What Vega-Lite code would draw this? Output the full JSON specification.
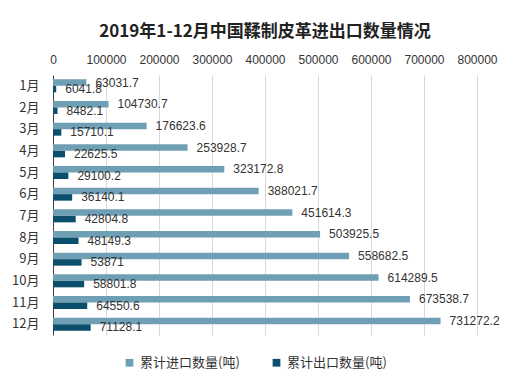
{
  "$schema": "https://vega.github.io/schema/vega-lite/v6.json",
  "width": 424,
  "height": 260,
  "autosize": {"type": "none"},
  "padding": {"left": 53, "top": 75, "right": 40, "bottom": 55},
  "background": "white",
  "config": {
    "font": "'Liberation Sans', 'Noto Sans CJK SC', sans-serif",
    "view": {"stroke": null}
  },
  "title": {
    "text": "2019年1-12月中国鞣制皮革进出口数量情况",
    "fontSize": 17,
    "fontWeight": "bold",
    "color": "#222222",
    "font": "'Noto Sans CJK SC', 'Liberation Sans', sans-serif",
    "anchor": "middle",
    "offset": 12
  },
  "data": {
    "values": [
      {"month": "1月", "type": "累计进口数量(吨)", "value": 63031.7},
      {"month": "1月", "type": "累计出口数量(吨)", "value": 6041.8},
      {"month": "2月", "type": "累计进口数量(吨)", "value": 104730.7},
      {"month": "2月", "type": "累计出口数量(吨)", "value": 8482.1},
      {"month": "3月", "type": "累计进口数量(吨)", "value": 176623.6},
      {"month": "3月", "type": "累计出口数量(吨)", "value": 15710.1},
      {"month": "4月", "type": "累计进口数量(吨)", "value": 253928.7},
      {"month": "4月", "type": "累计出口数量(吨)", "value": 22625.5},
      {"month": "5月", "type": "累计进口数量(吨)", "value": 323172.8},
      {"month": "5月", "type": "累计出口数量(吨)", "value": 29100.2},
      {"month": "6月", "type": "累计进口数量(吨)", "value": 388021.7},
      {"month": "6月", "type": "累计出口数量(吨)", "value": 36140.1},
      {"month": "7月", "type": "累计进口数量(吨)", "value": 451614.3},
      {"month": "7月", "type": "累计出口数量(吨)", "value": 42804.8},
      {"month": "8月", "type": "累计进口数量(吨)", "value": 503925.5},
      {"month": "8月", "type": "累计出口数量(吨)", "value": 48149.3},
      {"month": "9月", "type": "累计进口数量(吨)", "value": 558682.5},
      {"month": "9月", "type": "累计出口数量(吨)", "value": 53871},
      {"month": "10月", "type": "累计进口数量(吨)", "value": 614289.5},
      {"month": "10月", "type": "累计出口数量(吨)", "value": 58801.8},
      {"month": "11月", "type": "累计进口数量(吨)", "value": 673538.7},
      {"month": "11月", "type": "累计出口数量(吨)", "value": 64550.6},
      {"month": "12月", "type": "累计进口数量(吨)", "value": 731272.2},
      {"month": "12月", "type": "累计出口数量(吨)", "value": 71128.1}
    ]
  },
  "encoding": {
    "y": {
      "field": "month",
      "type": "nominal",
      "sort": null,
      "scale": {"paddingInner": 0.4, "paddingOuter": 0.2},
      "axis": {
        "title": null,
        "domain": true,
        "domainColor": "#404040",
        "ticks": false,
        "labelFontSize": 13,
        "labelColor": "#333333",
        "labelPadding": 14,
        "labelFont": "'Noto Sans CJK SC', 'Liberation Sans', sans-serif"
      }
    },
    "x": {
      "field": "value",
      "type": "quantitative",
      "scale": {"domain": [0, 800000], "nice": false},
      "axis": {
        "orient": "top",
        "title": null,
        "domain": false,
        "ticks": false,
        "values": [0, 100000, 200000, 300000, 400000, 500000, 600000, 700000, 800000],
        "format": "d",
        "labelOverlap": false,
        "labelFlush": false,
        "labelBound": false,
        "labelFontSize": 12,
        "labelColor": "#333333",
        "labelPadding": 9,
        "grid": true,
        "gridColor": "#d9d9d9"
      }
    },
    "yOffset": {"field": "type", "sort": ["累计进口数量(吨)", "累计出口数量(吨)"]}
  },
  "layer": [
    {
      "mark": {"type": "bar"},
      "encoding": {
        "color": {
          "field": "type",
          "type": "nominal",
          "sort": ["累计进口数量(吨)", "累计出口数量(吨)"],
          "scale": {"domain": ["累计进口数量(吨)", "累计出口数量(吨)"], "range": ["#6F9FB5", "#0C4F6C"]},
          "legend": {
            "title": null,
            "orient": "none",
            "legendX": 70,
            "legendY": 281,
            "direction": "horizontal",
            "symbolType": "square",
            "symbolSize": 60,
            "symbolStrokeWidth": 0,
            "labelFontSize": 13,
            "labelColor": "#333333",
            "labelFont": "'Noto Sans CJK SC', 'Liberation Sans', sans-serif",
            "columnPadding": 30,
            "labelLimit": 200
          }
        }
      }
    },
    {
      "mark": {"type": "text", "align": "left", "baseline": "middle", "dx": 9, "fontSize": 12, "color": "#333333"},
      "encoding": {
        "text": {"field": "value", "type": "quantitative", "format": "~f"}
      }
    }
  ]
}
